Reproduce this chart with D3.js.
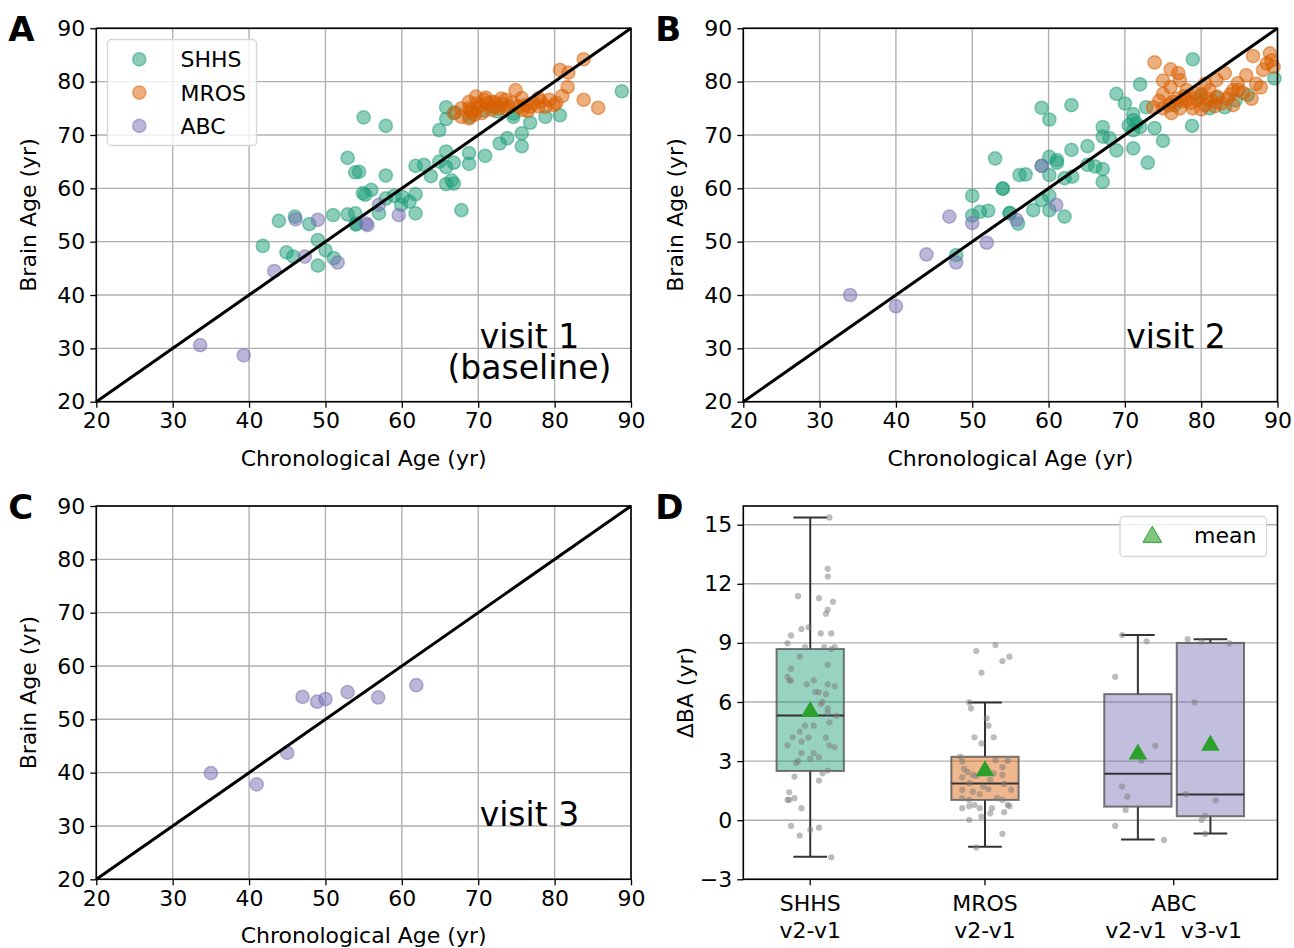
<!DOCTYPE html>
<html>
<head>
<meta charset="utf-8">
<script src="https://cdn.jsdelivr.net/npm/d3@7"></script>
<style>
  html, body { margin: 0; padding: 0; background: #fff; }
  svg { display: block; font-family: "DejaVu Sans", sans-serif; }
</style>
</head>
<body>
<svg id="fig" width="1294" height="948"></svg>
<script>
// ---------------- data ----------------
// Brain age vs chronological age, [chronological, brain]
const shhsVisit1 = [
  [55.0,73.3],[57.9,71.7],[65.8,75.2],[65.8,73.0],[64.9,70.9],[88.8,78.2],[80.7,73.7],[78.8,73.4],
  [76.8,72.3],[75.7,70.3],[75.7,67.9],[73.8,69.4],[72.8,68.4],[74.6,73.4],[70.9,66.1],[68.8,66.6],
  [68.8,64.6],[66.8,64.8],[65.8,66.9],[65.8,64.0],[64.9,65.0],[63.8,62.3],[62.9,64.4],[61.8,64.2],
  [65.8,60.8],[66.8,60.9],[67.8,55.9],[57.9,62.4],[61.8,58.9],[60.1,58.4],[61.0,57.5],[59.9,56.9],
  [61.8,55.3],[57.9,58.1],[56.0,59.7],[54.9,59.1],[57.0,55.3],[54.4,63.1],[52.9,65.7],[53.9,63.0],
  [43.9,53.9],[46.0,54.7],[47.9,53.3],[51.0,55.0],[52.9,55.1],[53.9,55.3],[54.0,53.4],[41.8,49.2],
  [44.9,48.0],[45.8,47.2],[49.0,50.3],[50.0,48.4],[49.0,45.5],[51.1,46.9],[54.0,53.2],[55.2,58.8],
  [59.0,58.6],[66.5,61.5],[67.0,74.2],[68.9,73.4],[74.6,74.0],[72.5,74.4],[70.8,74.6]
];
const mrosVisit1 = [
  [83.8,84.2],[80.7,82.2],[81.8,81.7],[81.7,79.0],[81.0,77.3],[83.8,76.6],[85.7,75.1],[79.9,75.6],
  [77.9,76.9],[77.9,75.4],[74.9,78.4],[75.7,76.9],[76.8,75.3],[73.6,76.6],[71.8,76.2],[69.7,77.2],
  [70.8,76.6],[68.8,75.0],[68.8,73.1],[66.8,74.1],[67.8,75.0],[69.8,75.0],[71.8,74.7],[72.7,75.0],
  [74.0,75.3],[75.3,75.3],[76.2,75.6],[78.8,75.3],[68.8,76.2],[67.8,73.4],[69.8,75.9],[73.6,75.0],
  [69.2,74.3],[70.3,75.6],[71.2,75.9],[72.2,76.1],[73.1,75.8],[74.5,76.1],[75.8,74.7],[77.2,75.9],
  [78.2,76.3],[79.3,76.6],[69.5,73.8],[70.5,74.1],[71.0,77.0],[72.0,75.3],[76.5,74.5],[80.2,76.0],
  [69.0,74.6],[73.0,76.8]
];
const abcVisit1 = [
  [57.0,56.9],[59.6,55.0],[55.5,53.1],[46.1,54.2],[49.0,54.1],[55.3,53.4],[47.3,47.2],[43.3,44.5],
  [51.6,46.1],[33.6,30.6],[39.3,28.7]
];

const shhsVisit2 = [
  [53.0,65.6],[54.0,59.9],[50.0,58.6],[50.0,54.9],[51.0,55.6],[52.1,55.8],[54.9,55.3],[56.2,62.5],
  [47.9,47.5],[78.9,84.2],[72.0,79.5],[68.9,77.7],[70.0,75.9],[71.1,73.9],[71.1,72.8],[72.0,71.5],
  [71.1,70.9],[72.8,75.2],[73.9,71.3],[75.0,68.9],[73.0,64.8],[71.1,67.5],[68.9,67.1],[67.1,71.5],
  [67.1,69.7],[68.0,69.4],[65.1,67.9],[63.0,67.2],[63.0,75.6],[59.1,75.1],[60.1,72.9],[60.1,65.9],
  [61.1,65.3],[61.1,64.8],[59.1,64.2],[60.1,62.5],[57.0,62.6],[54.0,60.0],[62.1,61.9],[63.1,62.2],
  [65.1,64.4],[66.1,64.1],[67.1,63.6],[67.1,61.2],[59.1,57.8],[60.1,58.6],[58.0,55.9],[60.1,55.9],
  [62.1,54.7],[54.9,55.4],[56.0,53.4],[78.8,71.7],[81.1,75.0],[83.1,75.2],[86.1,77.5],[89.6,80.6],
  [79.8,77.2],[76.5,75.6],[82.0,77.0],[84.5,76.5],[71.5,72.2],[70.5,71.8]
];
const mrosVisit2 = [
  [73.9,83.6],[76.0,82.3],[77.0,81.6],[77.2,80.3],[75.0,80.2],[75.0,77.7],[75.0,75.0],[73.7,75.2],
  [76.3,76.2],[77.2,75.0],[78.1,78.4],[78.9,75.0],[78.1,76.5],[76.1,74.1],[80.0,74.8],[83.1,81.6],
  [82.0,80.3],[85.9,81.2],[84.8,79.7],[81.1,78.4],[82.1,77.2],[84.2,78.4],[86.8,84.8],[88.1,82.2],
  [89.0,85.3],[89.2,84.0],[84.2,75.6],[80.8,76.8],[80.0,77.6],[83.4,76.8],[84.9,78.4],[86.6,76.8],
  [76.8,76.8],[77.8,77.3],[78.6,76.0],[79.5,76.6],[80.5,75.6],[81.5,76.3],[82.6,75.9],[75.8,75.6],
  [77.5,76.4],[79.2,77.8],[81.8,75.4],[83.8,77.6],[87.8,78.9],[89.5,82.8],[85.5,77.9],[74.5,76.4],
  [76.0,79.0],[80.5,79.6],[88.6,83.4],[87.2,79.6]
];
const abcVisit2 = [
  [34.0,40.0],[40.0,37.9],[44.0,47.6],[47.9,46.1],[51.9,49.8],[50.0,53.5],[47.0,54.7],[55.8,54.1],
  [59.1,64.2],[61.0,56.9]
];

const abcVisit3 = [
  [35.0,39.9],[41.0,37.8],[45.0,43.7],[47.0,54.2],[48.9,53.3],[50.0,53.8],[52.9,55.1],[56.9,54.1],
  [61.9,56.4]
];

// Change in brain age between visits (yr): box summaries
const boxLabels = ["SHHS v2-v1", "MROS v2-v1", "ABC v2-v1", "ABC v3-v1"];
const boxPositions = [0, 1, 1.875, 2.29];
const boxWhiskerLow  = [-1.86, -1.35, -0.98, -0.68];
const boxQ1          = [2.50, 1.03, 0.69, 0.20];
const boxMedian      = [5.32, 1.86, 2.36, 1.30];
const boxQ3          = [8.69, 3.22, 6.40, 9.00];
const boxWhiskerHigh = [15.37, 5.98, 9.40, 9.18];
const boxMean        = [5.56, 2.55, 3.40, 3.85];
const boxGroupColors = ["#1b9e77", "#d95f02", "#7570b3", "#7570b3"];

// category tick labels under panel D
const groupTickPositions = [0, 1, 2.08];
const groupTickLines = [["SHHS", "v2-v1"], ["MROS", "v2-v1"], ["ABC", "v2-v1  v3-v1"]];

// individual ΔBA values with their horizontal jitter, [offset, value]
const shhsDelta = [
  [0.11,15.37],[0.10,12.76],[0.10,12.37],[-0.07,11.37],[0.05,11.27],[0.13,11.09],[0.10,10.68],[0.09,10.48],
  [-0.05,9.70],[-0.01,9.79],[-0.11,9.38],[0.06,9.48],[0.12,9.48],[-0.13,8.98],[-0.03,8.79],[0.08,8.79],
  [0.12,8.69],[0.14,8.79],[-0.06,8.30],[-0.11,7.69],[0.10,7.89],[-0.13,7.28],[-0.11,7.08],[-0.12,7.10],
  [-0.02,6.90],[0.02,7.10],[0.10,6.90],[0.14,6.80],[0.03,6.51],[0.05,6.49],[0.09,6.40],[0.07,6.01],
  [0.10,5.68],[0.10,5.46],[0.15,5.30],[0.11,4.97],[-0.03,4.80],[0.02,4.80],[-0.06,4.49],[-0.10,4.21],
  [-0.05,3.99],[-0.01,4.19],[0.09,4.19],[-0.13,3.80],[0.11,3.80],[0.14,3.70],[-0.05,3.41],[0.02,3.41],
  [0.05,3.19],[0.00,3.11],[-0.07,3.01],[0.10,2.52],[0.07,2.38],[-0.09,2.21],[0.05,2.01],[-0.12,1.42],
  [-0.12,1.03],[-0.09,1.12],[-0.13,1.03],[-0.05,0.61],[-0.11,-0.29],[-0.06,-0.78],[0.00,-0.49],[0.05,-0.38],
  [0.12,-1.88],[-0.08,2.9],[0.06,5.9]
];
const mrosDelta = [
  [-0.05,8.59],[0.06,8.89],[0.10,8.08],[0.14,8.30],[-0.02,7.49],[-0.09,5.98],[-0.08,5.68],[0.01,5.17],
  [0.02,4.80],[-0.06,4.21],[0.05,4.21],[-0.02,3.90],[-0.14,3.23],[-0.13,2.97],[-0.12,2.60],[-0.07,2.30],
  [-0.05,2.25],[0.10,2.69],[0.10,2.30],[0.13,3.01],[0.05,2.38],[-0.13,2.18],[-0.09,1.88],[0.11,1.84],
  [-0.13,1.54],[-0.07,1.45],[0.02,1.57],[0.15,1.54],[-0.13,1.12],[-0.03,1.33],[0.07,1.12],[0.10,1.03],
  [-0.09,1.03],[-0.06,0.78],[-0.03,0.61],[-0.13,0.61],[-0.09,0.71],[0.04,0.61],[0.13,0.78],[0.14,0.71],
  [0.03,0.35],[-0.02,0.18],[-0.09,0.02],[0.11,0.41],[0.10,-0.69],[-0.05,-1.39],[0.03,2.05],[-0.01,1.70],
  [0.06,3.05],[-0.10,2.45]
];
const abcV2Delta = [
  [-0.09,9.40],[0.05,9.08],[-0.13,7.28],[0.10,3.78],[0.02,3.01],[-0.09,1.71],[-0.06,1.20],[-0.07,0.52],
  [-0.13,-0.29],[0.15,-1.00]
];
const abcV3Delta = [
  [-0.13,9.19],[-0.05,9.06],[0.11,8.98],[-0.09,5.98],[-0.14,1.32],[0.03,1.01],[-0.03,0.22],[-0.05,0.02],
  [-0.03,-0.69]
];
const deltaSets = [shhsDelta, mrosDelta, abcV2Delta, abcV3Delta];

const ageTicks = [20, 30, 40, 50, 60, 70, 80, 90];
const deltaTicks = [-3, 0, 3, 6, 9, 12, 15];

// ---------------- layout ----------------
const svg = d3.select("#fig");
const FONT = 22;
const panels = {
  A: { left: 96.3, right: 631, top: 28.3, bottom: 401.7 },
  B: { left: 743.3, right: 1277.5, top: 28.3, bottom: 401.7 },
  C: { left: 96.3, right: 631, top: 506, bottom: 879.3 },
  D: { left: 743.3, right: 1277.5, top: 506, bottom: 879.3 }
};
const GRID = "#b0b0b0";
const colors = { SHHS: "#1b9e77", MROS: "#d95f02", ABC: "#7570b3" };

function styleAxis(g) {
  g.selectAll(".domain").remove();
  g.selectAll(".tick line").attr("stroke", "#000").attr("stroke-width", 1.3);
  g.selectAll(".tick text").attr("fill", "#000").style("font-size", FONT + "px")
    .style("font-family", "DejaVu Sans");
}

function panelLetter(p, letter) {
  svg.append("text").attr("x", p.left - 88).attr("y", p.top + 13)
    .attr("font-size", 34).attr("font-weight", "bold").attr("fill", "#000")
    .text(letter);
}

function scatterPanel(key, letter, sets, visitLines) {
  const p = panels[key];
  const x = d3.scaleLinear().domain([20, 90]).range([p.left, p.right]);
  const y = d3.scaleLinear().domain([20, 90]).range([p.bottom, p.top]);
  const g = svg.append("g");

  // grid
  g.append("g").selectAll("line.gx").data(ageTicks).join("line")
    .attr("x1", d => x(d)).attr("x2", d => x(d)).attr("y1", p.top).attr("y2", p.bottom)
    .attr("stroke", GRID).attr("stroke-width", 1.4);
  g.append("g").selectAll("line.gy").data(ageTicks).join("line")
    .attr("y1", d => y(d)).attr("y2", d => y(d)).attr("x1", p.left).attr("x2", p.right)
    .attr("stroke", GRID).attr("stroke-width", 1.4);

  // points
  sets.forEach(s => {
    g.append("g").selectAll("circle").data(s.data).join("circle")
      .attr("cx", d => x(d[0])).attr("cy", d => y(d[1])).attr("r", 6.6)
      .attr("fill", s.color).attr("fill-opacity", 0.5)
      .attr("stroke", s.color).attr("stroke-opacity", 0.5).attr("stroke-width", 1.5);
  });

  // identity line
  g.append("line")
    .attr("x1", x(20)).attr("y1", y(20)).attr("x2", x(90)).attr("y2", y(90))
    .attr("stroke", "#000").attr("stroke-width", 3);

  // frame
  g.append("rect").attr("x", p.left).attr("y", p.top)
    .attr("width", p.right - p.left).attr("height", p.bottom - p.top)
    .attr("fill", "none").attr("stroke", "#000").attr("stroke-width", 1.6);

  // axes
  g.append("g").attr("transform", `translate(0,${p.bottom})`)
    .call(d3.axisBottom(x).tickValues(ageTicks).tickSize(6).tickPadding(5).tickFormat(d3.format("d")))
    .call(styleAxis);
  g.append("g").attr("transform", `translate(${p.left},0)`)
    .call(d3.axisLeft(y).tickValues(ageTicks).tickSize(6).tickPadding(5).tickFormat(d3.format("d")))
    .call(styleAxis);

  // axis titles
  g.append("text").attr("x", (p.left + p.right) / 2).attr("y", p.bottom + 64)
    .attr("text-anchor", "middle").attr("font-size", FONT).text("Chronological Age (yr)");
  g.append("text")
    .attr("transform", `translate(${p.left - 60},${(p.top + p.bottom) / 2}) rotate(-90)`)
    .attr("text-anchor", "middle").attr("font-size", FONT).text("Brain Age (yr)");

  // visit annotation (anchored in data coordinates)
  const t = g.append("text").attr("text-anchor", "middle").attr("font-size", 33);
  visitLines.forEach((line, i) => {
    t.append("tspan").attr("x", x(76.7)).attr("y", y(30) + i * 31).text(line);
  });

  panelLetter(p, letter);
  return { x, y, g };
}

// Panel A
const A = scatterPanel("A", "A", [
  { data: shhsVisit1, color: colors.SHHS },
  { data: mrosVisit1, color: colors.MROS },
  { data: abcVisit1, color: colors.ABC }
], ["visit 1", "(baseline)"]);

// legend for panel A
(function () {
  const lg = A.g.append("g");
  lg.append("rect").attr("x", 107.5).attr("y", 39.5).attr("width", 149).attr("height", 106)
    .attr("rx", 4).attr("fill", "#fff").attr("fill-opacity", 0.8)
    .attr("stroke", "#d6d6d6").attr("stroke-width", 1.3);
  const items = [["SHHS", colors.SHHS], ["MROS", colors.MROS], ["ABC", colors.ABC]];
  items.forEach((it, i) => {
    const cy = 59.3 + i * 33.3;
    lg.append("circle").attr("cx", 139.3).attr("cy", cy).attr("r", 6.6)
      .attr("fill", it[1]).attr("fill-opacity", 0.5)
      .attr("stroke", it[1]).attr("stroke-opacity", 0.5).attr("stroke-width", 1.5);
    lg.append("text").attr("x", 180.5).attr("y", cy + 8).attr("font-size", FONT).text(it[0]);
  });
})();

// Panel B
scatterPanel("B", "B", [
  { data: shhsVisit2, color: colors.SHHS },
  { data: mrosVisit2, color: colors.MROS },
  { data: abcVisit2, color: colors.ABC }
], ["visit 2"]);

// Panel C
scatterPanel("C", "C", [
  { data: abcVisit3, color: colors.ABC }
], ["visit 3"]);

// Panel D: ΔBA box plots
(function () {
  const p = panels.D;
  const x = d3.scaleLinear().domain([-0.383, 2.674]).range([p.left, p.right]);
  const y = d3.scaleLinear().domain([-3, 15.95]).range([p.bottom, p.top]);
  const g = svg.append("g");
  const bw = 0.385;

  g.append("g").selectAll("line").data(deltaTicks).join("line")
    .attr("x1", p.left).attr("x2", p.right).attr("y1", d => y(d)).attr("y2", d => y(d))
    .attr("stroke", GRID).attr("stroke-width", 1.4);

  boxLabels.forEach((lab, i) => {
    const cx = boxPositions[i];
    const bg = g.append("g");
    // whiskers
    bg.append("line").attr("x1", x(cx)).attr("x2", x(cx))
      .attr("y1", y(boxQ3[i])).attr("y2", y(boxWhiskerHigh[i]))
      .attr("stroke", "#333").attr("stroke-width", 2);
    bg.append("line").attr("x1", x(cx)).attr("x2", x(cx))
      .attr("y1", y(boxQ1[i])).attr("y2", y(boxWhiskerLow[i]))
      .attr("stroke", "#333").attr("stroke-width", 2);
    [boxWhiskerHigh[i], boxWhiskerLow[i]].forEach(v => {
      bg.append("line").attr("x1", x(cx - bw / 4)).attr("x2", x(cx + bw / 4))
        .attr("y1", y(v)).attr("y2", y(v)).attr("stroke", "#333").attr("stroke-width", 2);
    });
    // box
    bg.append("rect").attr("x", x(cx - bw / 2)).attr("width", x(cx + bw / 2) - x(cx - bw / 2))
      .attr("y", y(boxQ3[i])).attr("height", y(boxQ1[i]) - y(boxQ3[i]))
      .attr("fill", boxGroupColors[i]).attr("fill-opacity", 0.45)
      .attr("stroke", "#555").attr("stroke-opacity", 0.8).attr("stroke-width", 2);
    // median
    bg.append("line").attr("x1", x(cx - bw / 2)).attr("x2", x(cx + bw / 2))
      .attr("y1", y(boxMedian[i])).attr("y2", y(boxMedian[i]))
      .attr("stroke", "#333").attr("stroke-width", 2);
  });

  // individual values
  deltaSets.forEach((set, i) => {
    g.append("g").selectAll("circle").data(set).join("circle")
      .attr("cx", d => x(boxPositions[i] + d[0])).attr("cy", d => y(d[1])).attr("r", 3.1)
      .attr("fill", "#7a7a7a").attr("fill-opacity", 0.5);
  });

  // means
  const tri = d3.symbol().type(d3.symbolTriangle).size(150);
  g.append("g").selectAll("path").data(boxMean).join("path")
    .attr("d", tri).attr("transform", (d, i) => `translate(${x(boxPositions[i])},${y(d) + 1})`)
    .attr("fill", "#2ca02c");

  // frame
  g.append("rect").attr("x", p.left).attr("y", p.top)
    .attr("width", p.right - p.left).attr("height", p.bottom - p.top)
    .attr("fill", "none").attr("stroke", "#000").attr("stroke-width", 1.6);

  // y axis
  g.append("g").attr("transform", `translate(${p.left},0)`)
    .call(d3.axisLeft(y).tickValues(deltaTicks).tickSize(6).tickPadding(5)
      .tickFormat(d => d < 0 ? "\u2212" + Math.abs(d) : d))
    .call(styleAxis);
  // x ticks with two-line labels
  const xt = g.append("g");
  groupTickPositions.forEach((pos, i) => {
    xt.append("line").attr("x1", x(pos)).attr("x2", x(pos))
      .attr("y1", p.bottom).attr("y2", p.bottom + 6).attr("stroke", "#000").attr("stroke-width", 1.3);
    const t = xt.append("text").attr("text-anchor", "middle").attr("font-size", FONT);
    groupTickLines[i].forEach((line, j) => {
      t.append("tspan").attr("x", x(pos)).attr("y", p.bottom + 32 + j * 27)
        .attr("xml:space", "preserve").style("white-space", "pre").text(line);
    });
  });

  g.append("text")
    .attr("transform", `translate(${p.left - 50},${(p.top + p.bottom) / 2}) rotate(-90)`)
    .attr("text-anchor", "middle").attr("font-size", FONT).text("\u0394BA (yr)");

  // legend
  const lg = g.append("g");
  lg.append("rect").attr("x", 1120).attr("y", 516.5).attr("width", 146.5).attr("height", 40)
    .attr("rx", 4).attr("fill", "#fff").attr("fill-opacity", 0.8)
    .attr("stroke", "#d6d6d6").attr("stroke-width", 1.3);
  lg.append("path").attr("d", tri).attr("transform", "translate(1152.3,537)")
    .attr("fill", "#2ca02c").attr("fill-opacity", 0.6).attr("stroke", "#2ca02c").attr("stroke-width", 1);
  lg.append("text").attr("x", 1194).attr("y", 543).attr("font-size", FONT).text("mean");

  panelLetter(p, "D");
})();
</script>
</body>
</html>
